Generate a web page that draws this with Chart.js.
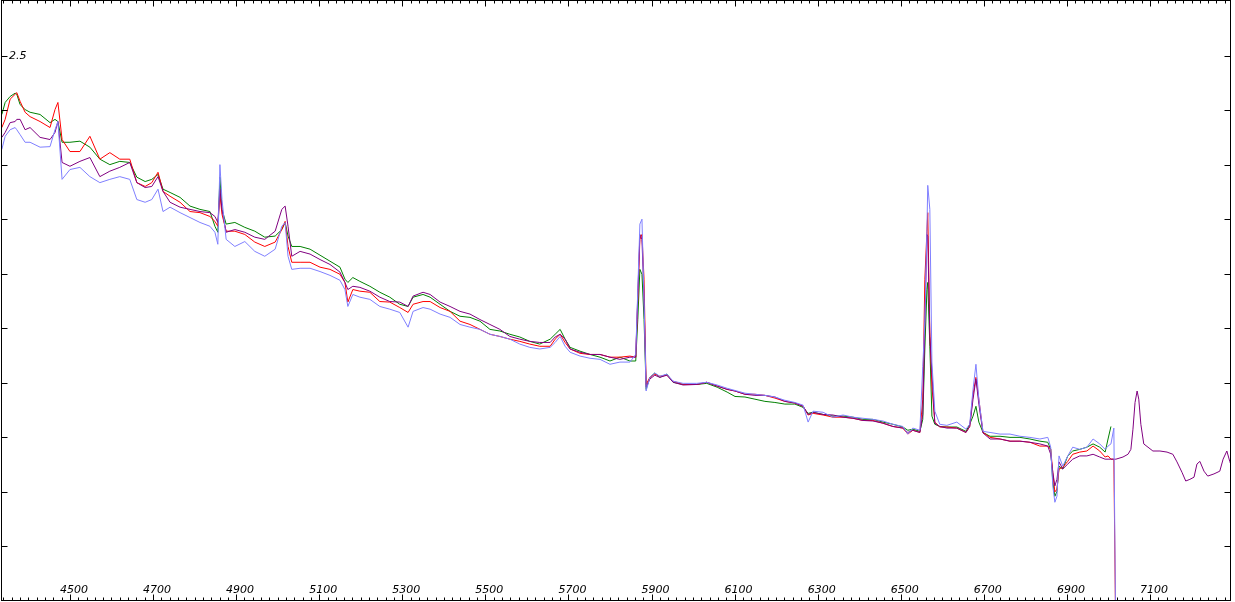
<!DOCTYPE html>
<html>
<head>
<meta charset="utf-8">
<script src="https://cdn.jsdelivr.net/npm/chart.js@4/dist/chart.umd.min.js"></script>
<style>
  html, body { margin: 0; padding: 0; background: #fff; }
  #box { width: 1235px; height: 602px; }
</style>
</head>
<body>
<div id="box"><canvas id="spectrumChart"></canvas></div>
<script>
// wavelength grid (Angstrom) shared by the four spectra
const wavelengths = [
  4336, 4344, 4356, 4368, 4372, 4380, 4392, 4404, 4428, 4452,
  4464, 4471, 4481, 4500, 4524, 4548, 4572, 4596, 4620, 4644,
  4661, 4681, 4697, 4712, 4724, 4741, 4765, 4789, 4813, 4837,
  4849, 4856, 4861, 4866, 4876, 4897, 4921, 4945, 4969, 4994,
  5010, 5018, 5025, 5034, 5054, 5078, 5102, 5126, 5150, 5162,
  5169, 5181, 5198, 5222, 5246, 5270, 5294, 5314, 5326, 5350,
  5367, 5391, 5415, 5439, 5463, 5487, 5511, 5535, 5559, 5583,
  5607, 5631, 5656, 5668, 5680, 5692, 5704, 5728, 5752, 5776,
  5800, 5824, 5848, 5862, 5867, 5872, 5877, 5882, 5887, 5896,
  5908, 5920, 5937, 5952, 5976, 6009, 6033, 6058, 6082, 6101,
  6125, 6149, 6173, 6197, 6221, 6245, 6265, 6277, 6289, 6313,
  6337, 6361, 6385, 6409, 6433, 6457, 6481, 6505, 6517, 6529,
  6546, 6553, 6558, 6563, 6565, 6570, 6575, 6582, 6594, 6611,
  6635, 6657, 6666, 6674, 6681, 6688, 6698, 6715, 6739, 6763,
  6787, 6811, 6835, 6854, 6861, 6866, 6871, 6876, 6881, 6890,
  6902, 6914, 6931, 6948, 6963, 6979, 6992, 6999, 7006, 7013, 7018
];

const greenFlux = [
  2.392, 2.414, 2.425, 2.431, 2.429, 2.410, 2.401, 2.396, 2.392, 2.377,
  2.383, 2.379, 2.341, 2.341, 2.343, 2.332, 2.310, 2.300, 2.306, 2.304,
  2.277, 2.269, 2.273, 2.282, 2.255, 2.249, 2.240, 2.224, 2.218, 2.214,
  2.187, 2.176, 2.277, 2.218, 2.191, 2.194, 2.185, 2.178, 2.167, 2.169,
  2.181, 2.194, 2.169, 2.150, 2.150, 2.145, 2.134, 2.123, 2.112, 2.090,
  2.084, 2.093, 2.086, 2.077, 2.066, 2.057, 2.044, 2.040, 2.057, 2.062,
  2.057, 2.044, 2.031, 2.022, 2.020, 2.013, 1.998, 1.995, 1.989, 1.984,
  1.976, 1.971, 1.980, 1.989, 1.998, 1.980, 1.965, 1.958, 1.952, 1.947,
  1.940, 1.947, 1.940, 1.940, 2.016, 2.108, 2.099, 2.016, 1.888, 1.910,
  1.918, 1.910, 1.916, 1.901, 1.897, 1.897, 1.899, 1.892, 1.883, 1.875,
  1.874, 1.870, 1.866, 1.864, 1.861, 1.861, 1.855, 1.844, 1.846, 1.842,
  1.839, 1.839, 1.837, 1.833, 1.833, 1.828, 1.824, 1.819, 1.813, 1.815,
  1.811, 1.833, 1.962, 2.071, 2.084, 1.967, 1.839, 1.824, 1.820, 1.819,
  1.819, 1.811, 1.824, 1.839, 1.857, 1.828, 1.809, 1.802, 1.802, 1.800,
  1.800, 1.797, 1.793, 1.791, 1.778, 1.718, 1.692, 1.701, 1.747, 1.742,
  1.766, 1.775, 1.778, 1.782, 1.788, 1.782, 1.773, 1.797, 1.820
];

const redFlux = [
  2.368, 2.383, 2.420, 2.429, 2.432, 2.416, 2.396, 2.388, 2.379, 2.368,
  2.401, 2.414, 2.346, 2.324, 2.324, 2.352, 2.310, 2.322, 2.310, 2.310,
  2.267, 2.260, 2.267, 2.286, 2.251, 2.242, 2.231, 2.214, 2.212, 2.205,
  2.196, 2.187, 2.245, 2.209, 2.178, 2.178, 2.172, 2.158, 2.150, 2.158,
  2.181, 2.196, 2.150, 2.121, 2.121, 2.121, 2.112, 2.108, 2.099, 2.084,
  2.048, 2.071, 2.068, 2.066, 2.049, 2.048, 2.038, 2.029, 2.044, 2.049,
  2.049, 2.038, 2.031, 2.013, 2.007, 1.998, 1.989, 1.985, 1.980, 1.976,
  1.971, 1.967, 1.967, 1.980, 1.989, 1.974, 1.962, 1.954, 1.952, 1.952,
  1.947, 1.947, 1.949, 1.947, 2.053, 2.163, 2.172, 2.090, 1.897, 1.910,
  1.916, 1.912, 1.914, 1.903, 1.897, 1.897, 1.901, 1.894, 1.888, 1.885,
  1.879, 1.879, 1.877, 1.872, 1.866, 1.863, 1.857, 1.841, 1.844, 1.841,
  1.837, 1.837, 1.835, 1.831, 1.831, 1.826, 1.820, 1.817, 1.806, 1.813,
  1.809, 1.870, 2.090, 2.178, 2.212, 1.993, 1.894, 1.828, 1.819, 1.819,
  1.817, 1.809, 1.820, 1.879, 1.910, 1.870, 1.809, 1.800, 1.797, 1.793,
  1.793, 1.791, 1.784, 1.784, 1.778, 1.736, 1.700, 1.705, 1.742, 1.745,
  1.756, 1.769, 1.773, 1.775, 1.784, 1.775, 1.764, 1.766, 1.760, 1.760, 1.400
];

const purpleFlux = [
  2.350, 2.359, 2.377, 2.379, 2.383, 2.383, 2.364, 2.368, 2.350, 2.346,
  2.359, 2.379, 2.304, 2.297, 2.306, 2.313, 2.278, 2.288, 2.295, 2.304,
  2.267, 2.258, 2.260, 2.278, 2.251, 2.231, 2.222, 2.218, 2.214, 2.212,
  2.205, 2.194, 2.255, 2.218, 2.176, 2.181, 2.176, 2.167, 2.163, 2.178,
  2.218, 2.224, 2.187, 2.132, 2.141, 2.136, 2.126, 2.117, 2.103, 2.084,
  2.071, 2.077, 2.075, 2.068, 2.057, 2.049, 2.048, 2.040, 2.059, 2.066,
  2.062, 2.048, 2.040, 2.031, 2.026, 2.016, 2.007, 1.998, 1.985, 1.980,
  1.976, 1.974, 1.974, 1.984, 1.989, 1.980, 1.962, 1.956, 1.952, 1.952,
  1.947, 1.943, 1.947, 1.947, 2.062, 2.172, 2.163, 2.053, 1.892, 1.907,
  1.914, 1.910, 1.914, 1.901, 1.896, 1.897, 1.901, 1.894, 1.888, 1.885,
  1.879, 1.877, 1.877, 1.874, 1.866, 1.863, 1.857, 1.842, 1.846, 1.842,
  1.841, 1.837, 1.835, 1.831, 1.830, 1.826, 1.820, 1.817, 1.809, 1.813,
  1.809, 1.842, 2.004, 2.172, 2.169, 1.985, 1.919, 1.826, 1.820, 1.817,
  1.817, 1.809, 1.820, 1.870, 1.907, 1.861, 1.808, 1.797, 1.797, 1.793,
  1.793, 1.791, 1.788, 1.784, 1.769, 1.736, 1.711, 1.723, 1.755, 1.742,
  1.751, 1.760, 1.766, 1.766, 1.769, 1.764, 1.760, 1.760, 1.760, 1.760, 1.760
];

// the purple spectrum runs on past the others
const wavelengthsExt = [
  7035, 7047, 7054, 7059, 7064, 7069, 7073, 7078, 7085, 7107,
  7124, 7141, 7155, 7165, 7177, 7186, 7196, 7206, 7213, 7220,
  7230, 7239, 7254, 7268, 7276, 7285, 7292, 7300
];
const purpleFluxExt = [
  1.764, 1.769, 1.778, 1.815, 1.864, 1.885, 1.870, 1.824, 1.788, 1.775,
  1.775, 1.773, 1.769, 1.755, 1.736, 1.720, 1.723, 1.727, 1.751, 1.756,
  1.738, 1.729, 1.733, 1.738, 1.760, 1.775, 1.756, 1.738
];

const blueFlux = [
  2.328, 2.352, 2.364, 2.368, 2.364, 2.355, 2.341, 2.341, 2.332, 2.333,
  2.364, 2.379, 2.273, 2.291, 2.295, 2.278, 2.267, 2.273, 2.278, 2.273,
  2.236, 2.231, 2.236, 2.255, 2.214, 2.222, 2.212, 2.203, 2.194, 2.187,
  2.176, 2.154, 2.300, 2.236, 2.163, 2.150, 2.159, 2.141, 2.132, 2.145,
  2.187, 2.194, 2.132, 2.108, 2.110, 2.110, 2.104, 2.097, 2.088, 2.071,
  2.040, 2.062, 2.057, 2.053, 2.040, 2.035, 2.029, 2.002, 2.031, 2.038,
  2.035, 2.026, 2.020, 2.007, 2.002, 1.998, 1.989, 1.985, 1.980, 1.971,
  1.965, 1.962, 1.965, 1.974, 1.985, 1.967, 1.956, 1.949, 1.945, 1.943,
  1.934, 1.938, 1.938, 1.952, 2.071, 2.191, 2.200, 2.053, 1.885, 1.910,
  1.918, 1.912, 1.916, 1.903, 1.899, 1.899, 1.901, 1.896, 1.890, 1.886,
  1.881, 1.879, 1.877, 1.874, 1.868, 1.864, 1.859, 1.828, 1.848, 1.846,
  1.837, 1.841, 1.837, 1.835, 1.833, 1.830, 1.824, 1.820, 1.806, 1.817,
  1.813, 1.930, 2.013, 2.181, 2.262, 2.218, 1.938, 1.848, 1.824, 1.822,
  1.828, 1.815, 1.824, 1.888, 1.934, 1.870, 1.811, 1.809, 1.806, 1.806,
  1.802, 1.800, 1.797, 1.800, 1.782, 1.711, 1.681, 1.692, 1.766, 1.747,
  1.766, 1.782, 1.778, 1.782, 1.797, 1.788, 1.778, 1.784, 1.788, 1.817, 1.400
];

// axis ticks
const xMajorTicks = [4500, 4700, 4900, 5100, 5300, 5500, 5700, 5900, 6100, 6300, 6500, 6700, 6900, 7100];
const xMinorStep = 20;
const yTicks = [1.6, 1.7, 1.8, 1.9, 2.0, 2.1, 2.2, 2.3, 2.4, 2.5];
const yTickLabels = ['', '', '', '', '', '', '', '', '', '2.5'];

function toPoints(xs, ys) {
  return ys.map((v, i) => ({ x: xs[i], y: v }));
}

// frame with inward ticks on all four sides
const framePlugin = {
  id: 'frame',
  afterDraw(chart) {
    const { ctx, chartArea: a, scales: { x, y } } = chart;
    const L = a.left + 0.5, R = a.right - 0.5, T = a.top - 0.5, B = a.bottom - 0.5;
    ctx.save();
    ctx.strokeStyle = '#000';
    ctx.lineWidth = 1;
    ctx.strokeRect(L, T, R - L, B - T);

    ctx.beginPath();
    for (let w = 4340; w <= x.max; w += xMinorStep) {
      const px = Math.round(x.getPixelForValue(w)) + 0.5;
      const len = xMajorTicks.includes(w) ? 6 : 3;
      ctx.moveTo(px, T); ctx.lineTo(px, T + len);
      ctx.moveTo(px, B); ctx.lineTo(px, B - len);
    }
    yTicks.forEach(v => {
      const py = Math.round(y.getPixelForValue(v)) + 0.5;
      ctx.moveTo(L, py); ctx.lineTo(L + 6, py);
      ctx.moveTo(R, py); ctx.lineTo(R - 6, py);
    });
    ctx.stroke();

    ctx.fillStyle = '#000';
    ctx.font = 'italic 11px "DejaVu Sans"';
    ctx.textBaseline = 'middle';
    ctx.textAlign = 'center';
    xMajorTicks.forEach(w => {
      ctx.fillText(String(w), x.getPixelForValue(w) + 4, a.bottom - 11);
    });
    ctx.textAlign = 'left';
    yTicks.forEach((v, i) => {
      if (yTickLabels[i]) ctx.fillText(yTickLabels[i], a.left + 8, y.getPixelForValue(v) + 1);
    });
    ctx.restore();
  }
};

const ctx = document.getElementById('spectrumChart').getContext('2d');

const spectrumChart = new Chart(ctx, {
  type: 'line',
  data: {
    datasets: [
      { label: 'blue', data: toPoints(wavelengths, blueFlux), borderColor: '#7f7fff' },
      { label: 'purple', data: toPoints(wavelengths, purpleFlux).concat(toPoints(wavelengthsExt, purpleFluxExt)), borderColor: '#800080' },
      { label: 'red', data: toPoints(wavelengths, redFlux), borderColor: '#ff0000' },
      { label: 'green', data: toPoints(wavelengths, greenFlux), borderColor: '#008000' }
    ]
  },
  options: {
    responsive: true,
    maintainAspectRatio: false,
    animation: false,
    layout: { padding: { left: 1, top: 1, right: 4, bottom: 1 } },
    elements: {
      point: { radius: 0 },
      line: { borderWidth: 1, tension: 0 }
    },
    plugins: {
      legend: { display: false },
      tooltip: { enabled: false }
    },
    scales: {
      x: { type: 'linear', min: 4334, max: 7295, display: false },
      y: { type: 'linear', min: 1.5, max: 2.6, display: false }
    }
  },
  plugins: [framePlugin]
});
</script>
</body>
</html>
